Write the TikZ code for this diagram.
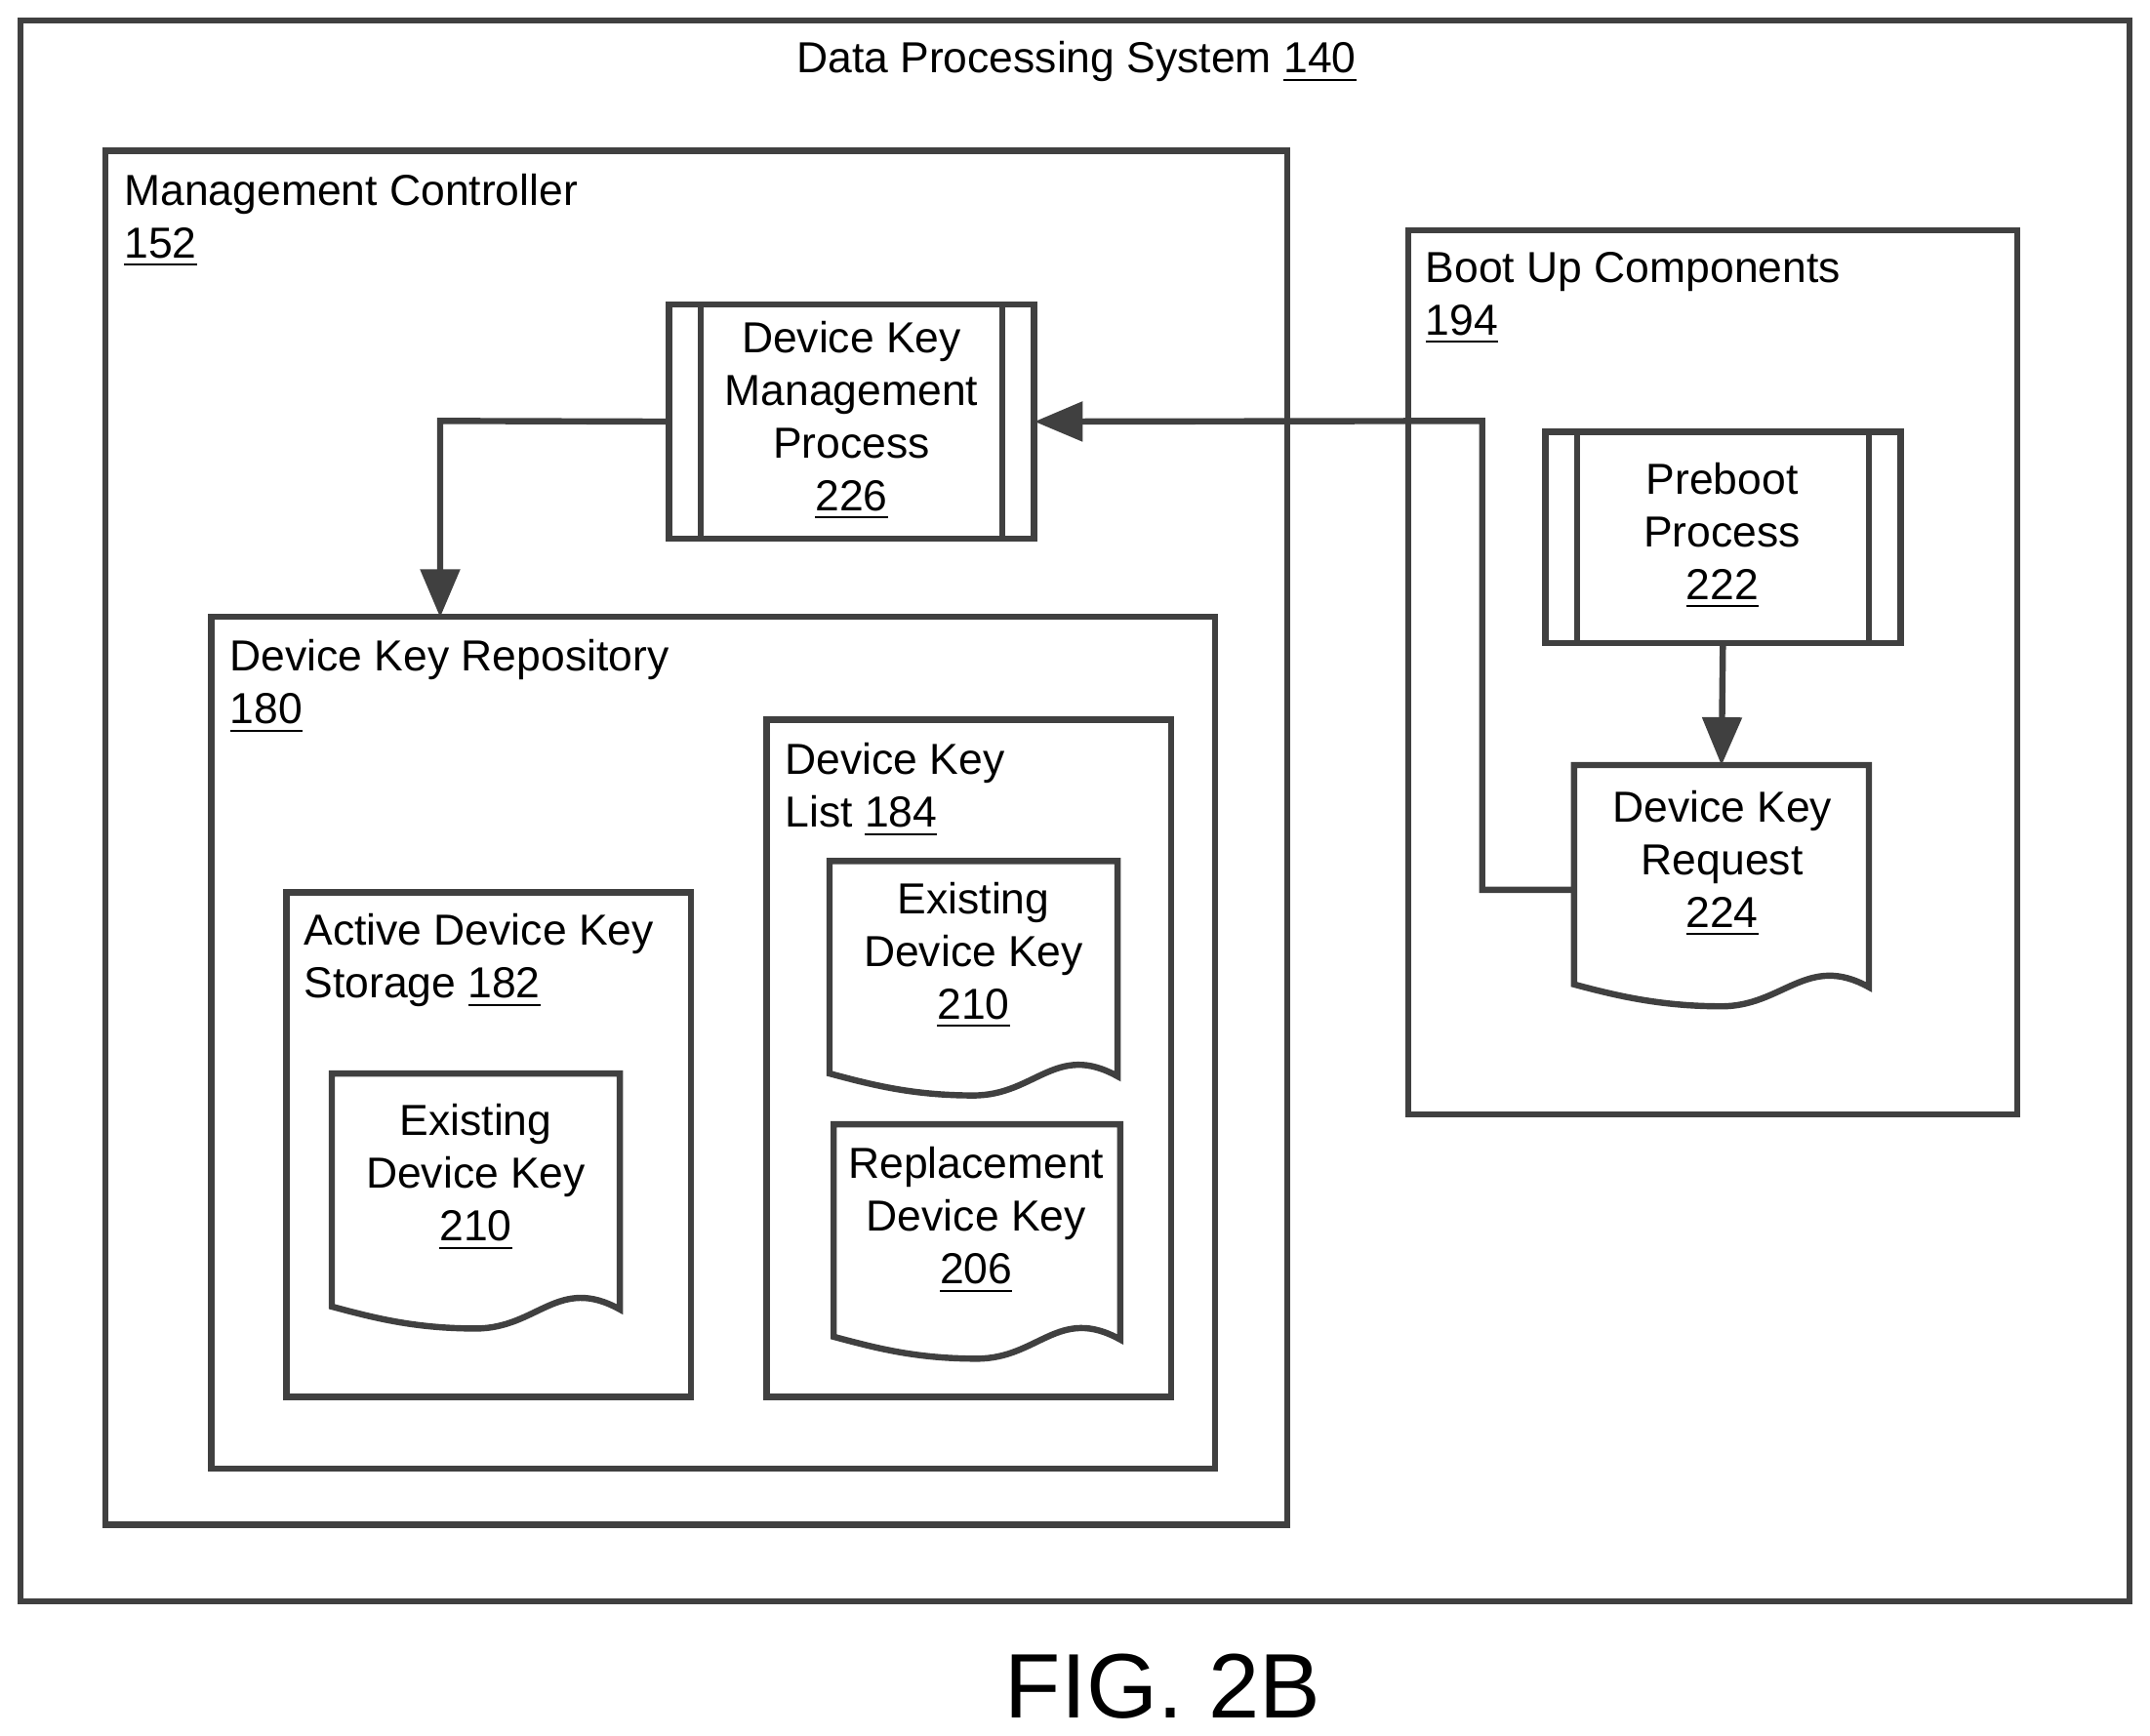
\documentclass[tikz,border=0pt]{standalone}
\usepackage{fontspec}
\setmainfont{Liberation Sans}
\usetikzlibrary{arrows}

\tikzset{
  box/.style={draw=black!75, line width=1.3pt},
  lbl/.style={align=left, anchor=north west, inner sep=0pt, font=\fontsize{9}{10.9}\selectfont},
  ctr/.style={align=center, inner sep=0pt, font=\fontsize{9}{10.9}\selectfont},
  flow/.style={draw=black!75, line width=1.3pt, ->, >=triangle 45},
}
% document shape: name, x1, y1, x2, yb
\newcommand\docshape[5]{%
  \draw[box] (#2,#3) -- (#4,#3) -- (#4,#5)
    .. controls +(-45,-25) and +(45,0) .. ({(#2+#4)/2},{#5+14})
    .. controls +(-45,0) and +(30,8) .. (#2,{#5-2}) -- cycle;
  \coordinate (#1) at ({(#2+#4)/2},#3);}
% predefined process: name, x1, y1, x2, y2
\newcommand\procshape[5]{%
  \draw[box] (#2,#3) rectangle (#4,#5);
  \draw[box] ({#2+23},#3) -- ({#2+23},#5) ({#4-23},#3) -- ({#4-23},#5);
  \node[inner sep=0pt, minimum width={(#4-#2)*0.01cm}, minimum height={(#5-#3)*0.01cm}]
    (#1) at ({(#2+#4)/2},{(#3+#5)/2}) {};}

\begin{document}
\begin{tikzpicture}[x=0.01cm, y=-0.01cm]
  \useasboundingbox (0,0) rectangle (1568,1266);

  % boxes
  \draw[box] (15,15) rectangle (1553,1168);
  \node[ctr] (dps) at (785,45) {Data Processing System \underline{140}};
  \draw[box] (77,110) rectangle (939,1112);
  \node[lbl] (mc) at (90,126) {Management Controller\\\underline{152}};
  \draw[box] (1027,168) rectangle (1471,813);
  \node[lbl] (buc) at (1039,183) {Boot Up Components\\\underline{194}};
  \draw[box] (154,450) rectangle (886,1071);
  \node[lbl] (dkr) at (167,466) {Device Key Repository\\\underline{180}};
  \draw[box] (209,651) rectangle (504,1019);
  \node[lbl] (adks) at (221,666) {Active Device Key\\Storage \underline{182}};
  \draw[box] (559,525) rectangle (854,1019);
  \node[lbl] (dkl) at (572,541) {Device Key\\List \underline{184}};

  % processes
  \procshape{dkmp}{488}{222}{754}{393}
  \node[ctr] at (621,307) {Device Key\\Management\\Process\\\underline{226}};
  \procshape{pbp}{1127}{315}{1386}{469}
  \node[ctr] at (1256,391) {Preboot\\Process\\\underline{222}};

  % documents
  \docshape{dkreq}{1148}{558}{1363}{720}
  \node[ctr] at (1256,630) {Device Key\\Request\\\underline{224}};
  \docshape{edk1}{242}{783}{452}{955}
  \node[ctr] at (347,859) {Existing\\Device Key\\\underline{210}};
  \docshape{edk2}{605}{628}{815}{785}
  \node[ctr] at (710,697) {Existing\\Device Key\\\underline{210}};
  \docshape{rdk}{608}{820}{817}{977}
  \node[ctr] at (712,890) {Replacement\\Device Key\\\underline{206}};

  % connectors
  \coordinate (c1) at (321,307);
  \coordinate (c2) at (1081,649);
  \coordinate (c3) at (1081,307);
  \draw[flow] (dkmp.west) -- (c1) -- (321,450);
  \draw[flow] (1148,649) -- (c2) -- (c3) -- (dkmp.east);
  \draw[flow] (pbp.south) -- (dkreq);

  \node[ctr, font=\fontsize{19}{21}\selectfont] (fig) at (848,1230) {FIG. 2B};
\end{tikzpicture}
\end{document}
